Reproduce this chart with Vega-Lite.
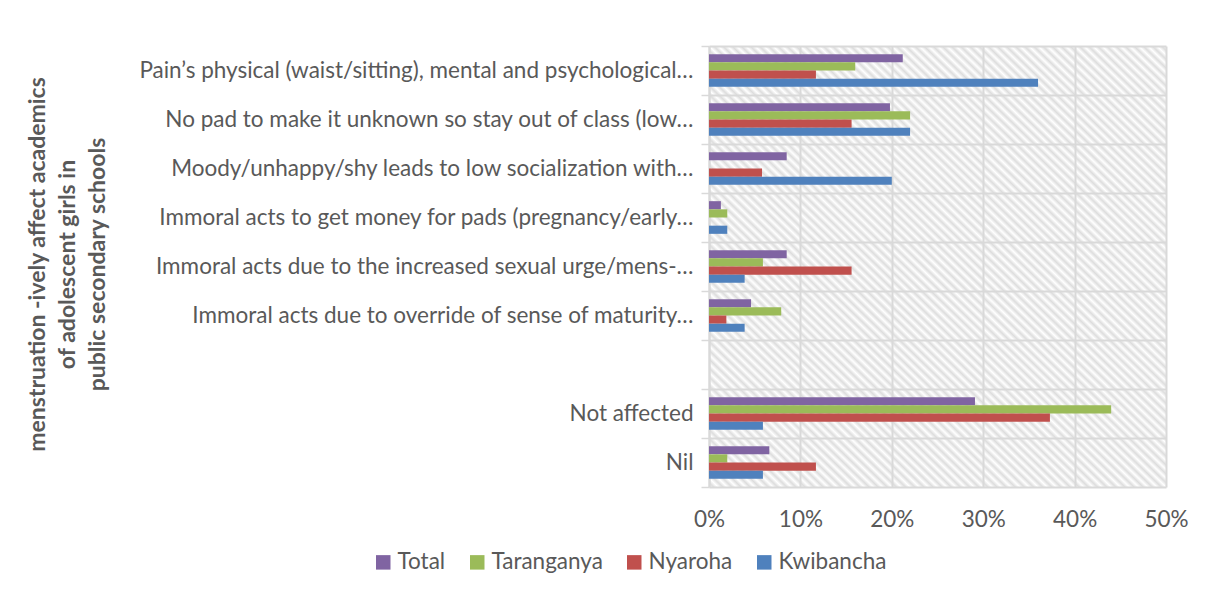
{
  "$schema": "https://vega.github.io/schema/vega-lite/v6.json",
  "width": 457,
  "height": 441,
  "autosize": {"type": "none"},
  "padding": {"left": 709, "top": 46, "right": 54, "bottom": 108},
  "background": "#ffffff",
  "config": {"font": "Lato, sans-serif"},
  "view": {
    "stroke": null,
    "fill": {
      "gradient": "linear", "x1": 0, "y1": 1, "x2": 1, "y2": 0,
      "stops": [
        {"offset":0,"color":"#fff"},{"offset":0.005,"color":"#ddd"},{"offset":0.01,"color":"#fff"},{"offset":0.015,"color":"#ddd"},{"offset":0.02,"color":"#fff"},{"offset":0.025,"color":"#ddd"},{"offset":0.03,"color":"#fff"},{"offset":0.035,"color":"#ddd"},{"offset":0.04,"color":"#fff"},{"offset":0.045,"color":"#ddd"},{"offset":0.05,"color":"#fff"},{"offset":0.055,"color":"#ddd"},{"offset":0.06,"color":"#fff"},{"offset":0.065,"color":"#ddd"},{"offset":0.07,"color":"#fff"},{"offset":0.075,"color":"#ddd"},{"offset":0.08,"color":"#fff"},{"offset":0.085,"color":"#ddd"},{"offset":0.09,"color":"#fff"},{"offset":0.095,"color":"#ddd"},
        {"offset":0.1,"color":"#fff"},{"offset":0.105,"color":"#ddd"},{"offset":0.11,"color":"#fff"},{"offset":0.115,"color":"#ddd"},{"offset":0.12,"color":"#fff"},{"offset":0.125,"color":"#ddd"},{"offset":0.13,"color":"#fff"},{"offset":0.135,"color":"#ddd"},{"offset":0.14,"color":"#fff"},{"offset":0.145,"color":"#ddd"},{"offset":0.15,"color":"#fff"},{"offset":0.155,"color":"#ddd"},{"offset":0.16,"color":"#fff"},{"offset":0.165,"color":"#ddd"},{"offset":0.17,"color":"#fff"},{"offset":0.175,"color":"#ddd"},{"offset":0.18,"color":"#fff"},{"offset":0.185,"color":"#ddd"},{"offset":0.19,"color":"#fff"},{"offset":0.195,"color":"#ddd"},
        {"offset":0.2,"color":"#fff"},{"offset":0.205,"color":"#ddd"},{"offset":0.21,"color":"#fff"},{"offset":0.215,"color":"#ddd"},{"offset":0.22,"color":"#fff"},{"offset":0.225,"color":"#ddd"},{"offset":0.23,"color":"#fff"},{"offset":0.235,"color":"#ddd"},{"offset":0.24,"color":"#fff"},{"offset":0.245,"color":"#ddd"},{"offset":0.25,"color":"#fff"},{"offset":0.255,"color":"#ddd"},{"offset":0.26,"color":"#fff"},{"offset":0.265,"color":"#ddd"},{"offset":0.27,"color":"#fff"},{"offset":0.275,"color":"#ddd"},{"offset":0.28,"color":"#fff"},{"offset":0.285,"color":"#ddd"},{"offset":0.29,"color":"#fff"},{"offset":0.295,"color":"#ddd"},
        {"offset":0.3,"color":"#fff"},{"offset":0.305,"color":"#ddd"},{"offset":0.31,"color":"#fff"},{"offset":0.315,"color":"#ddd"},{"offset":0.32,"color":"#fff"},{"offset":0.325,"color":"#ddd"},{"offset":0.33,"color":"#fff"},{"offset":0.335,"color":"#ddd"},{"offset":0.34,"color":"#fff"},{"offset":0.345,"color":"#ddd"},{"offset":0.35,"color":"#fff"},{"offset":0.355,"color":"#ddd"},{"offset":0.36,"color":"#fff"},{"offset":0.365,"color":"#ddd"},{"offset":0.37,"color":"#fff"},{"offset":0.375,"color":"#ddd"},{"offset":0.38,"color":"#fff"},{"offset":0.385,"color":"#ddd"},{"offset":0.39,"color":"#fff"},{"offset":0.395,"color":"#ddd"},
        {"offset":0.4,"color":"#fff"},{"offset":0.405,"color":"#ddd"},{"offset":0.41,"color":"#fff"},{"offset":0.415,"color":"#ddd"},{"offset":0.42,"color":"#fff"},{"offset":0.425,"color":"#ddd"},{"offset":0.43,"color":"#fff"},{"offset":0.435,"color":"#ddd"},{"offset":0.44,"color":"#fff"},{"offset":0.445,"color":"#ddd"},{"offset":0.45,"color":"#fff"},{"offset":0.455,"color":"#ddd"},{"offset":0.46,"color":"#fff"},{"offset":0.465,"color":"#ddd"},{"offset":0.47,"color":"#fff"},{"offset":0.475,"color":"#ddd"},{"offset":0.48,"color":"#fff"},{"offset":0.485,"color":"#ddd"},{"offset":0.49,"color":"#fff"},{"offset":0.495,"color":"#ddd"},
        {"offset":0.5,"color":"#fff"},{"offset":0.505,"color":"#ddd"},{"offset":0.51,"color":"#fff"},{"offset":0.515,"color":"#ddd"},{"offset":0.52,"color":"#fff"},{"offset":0.525,"color":"#ddd"},{"offset":0.53,"color":"#fff"},{"offset":0.535,"color":"#ddd"},{"offset":0.54,"color":"#fff"},{"offset":0.545,"color":"#ddd"},{"offset":0.55,"color":"#fff"},{"offset":0.555,"color":"#ddd"},{"offset":0.56,"color":"#fff"},{"offset":0.565,"color":"#ddd"},{"offset":0.57,"color":"#fff"},{"offset":0.575,"color":"#ddd"},{"offset":0.58,"color":"#fff"},{"offset":0.585,"color":"#ddd"},{"offset":0.59,"color":"#fff"},{"offset":0.595,"color":"#ddd"},
        {"offset":0.6,"color":"#fff"},{"offset":0.605,"color":"#ddd"},{"offset":0.61,"color":"#fff"},{"offset":0.615,"color":"#ddd"},{"offset":0.62,"color":"#fff"},{"offset":0.625,"color":"#ddd"},{"offset":0.63,"color":"#fff"},{"offset":0.635,"color":"#ddd"},{"offset":0.64,"color":"#fff"},{"offset":0.645,"color":"#ddd"},{"offset":0.65,"color":"#fff"},{"offset":0.655,"color":"#ddd"},{"offset":0.66,"color":"#fff"},{"offset":0.665,"color":"#ddd"},{"offset":0.67,"color":"#fff"},{"offset":0.675,"color":"#ddd"},{"offset":0.68,"color":"#fff"},{"offset":0.685,"color":"#ddd"},{"offset":0.69,"color":"#fff"},{"offset":0.695,"color":"#ddd"},
        {"offset":0.7,"color":"#fff"},{"offset":0.705,"color":"#ddd"},{"offset":0.71,"color":"#fff"},{"offset":0.715,"color":"#ddd"},{"offset":0.72,"color":"#fff"},{"offset":0.725,"color":"#ddd"},{"offset":0.73,"color":"#fff"},{"offset":0.735,"color":"#ddd"},{"offset":0.74,"color":"#fff"},{"offset":0.745,"color":"#ddd"},{"offset":0.75,"color":"#fff"},{"offset":0.755,"color":"#ddd"},{"offset":0.76,"color":"#fff"},{"offset":0.765,"color":"#ddd"},{"offset":0.77,"color":"#fff"},{"offset":0.775,"color":"#ddd"},{"offset":0.78,"color":"#fff"},{"offset":0.785,"color":"#ddd"},{"offset":0.79,"color":"#fff"},{"offset":0.795,"color":"#ddd"},
        {"offset":0.8,"color":"#fff"},{"offset":0.805,"color":"#ddd"},{"offset":0.81,"color":"#fff"},{"offset":0.815,"color":"#ddd"},{"offset":0.82,"color":"#fff"},{"offset":0.825,"color":"#ddd"},{"offset":0.83,"color":"#fff"},{"offset":0.835,"color":"#ddd"},{"offset":0.84,"color":"#fff"},{"offset":0.845,"color":"#ddd"},{"offset":0.85,"color":"#fff"},{"offset":0.855,"color":"#ddd"},{"offset":0.86,"color":"#fff"},{"offset":0.865,"color":"#ddd"},{"offset":0.87,"color":"#fff"},{"offset":0.875,"color":"#ddd"},{"offset":0.88,"color":"#fff"},{"offset":0.885,"color":"#ddd"},{"offset":0.89,"color":"#fff"},{"offset":0.895,"color":"#ddd"},
        {"offset":0.9,"color":"#fff"},{"offset":0.905,"color":"#ddd"},{"offset":0.91,"color":"#fff"},{"offset":0.915,"color":"#ddd"},{"offset":0.92,"color":"#fff"},{"offset":0.925,"color":"#ddd"},{"offset":0.93,"color":"#fff"},{"offset":0.935,"color":"#ddd"},{"offset":0.94,"color":"#fff"},{"offset":0.945,"color":"#ddd"},{"offset":0.95,"color":"#fff"},{"offset":0.955,"color":"#ddd"},{"offset":0.96,"color":"#fff"},{"offset":0.965,"color":"#ddd"},{"offset":0.97,"color":"#fff"},{"offset":0.975,"color":"#ddd"},{"offset":0.98,"color":"#fff"},{"offset":0.985,"color":"#ddd"},{"offset":0.99,"color":"#fff"},{"offset":0.995,"color":"#ddd"},
        {"offset":1,"color":"#fff"}
      ]
    }
  },
  "data": {
    "values": [
      {"cause": "Pain’s physical (waist/sitting), mental and psychological…", "school": "Total", "pct": 0.212},
      {"cause": "Pain’s physical (waist/sitting), mental and psychological…", "school": "Taranganya", "pct": 0.16},
      {"cause": "Pain’s physical (waist/sitting), mental and psychological…", "school": "Nyaroha", "pct": 0.117},
      {"cause": "Pain’s physical (waist/sitting), mental and psychological…", "school": "Kwibancha", "pct": 0.36},
      {"cause": "No pad to make it unknown so stay out of class (low…", "school": "Total", "pct": 0.198},
      {"cause": "No pad to make it unknown so stay out of class (low…", "school": "Taranganya", "pct": 0.22},
      {"cause": "No pad to make it unknown so stay out of class (low…", "school": "Nyaroha", "pct": 0.156},
      {"cause": "No pad to make it unknown so stay out of class (low…", "school": "Kwibancha", "pct": 0.22},
      {"cause": "Moody/unhappy/shy leads to low socialization with…", "school": "Total", "pct": 0.085},
      {"cause": "Moody/unhappy/shy leads to low socialization with…", "school": "Taranganya", "pct": 0},
      {"cause": "Moody/unhappy/shy leads to low socialization with…", "school": "Nyaroha", "pct": 0.058},
      {"cause": "Moody/unhappy/shy leads to low socialization with…", "school": "Kwibancha", "pct": 0.2},
      {"cause": "Immoral acts to get money for pads (pregnancy/early…", "school": "Total", "pct": 0.013},
      {"cause": "Immoral acts to get money for pads (pregnancy/early…", "school": "Taranganya", "pct": 0.02},
      {"cause": "Immoral acts to get money for pads (pregnancy/early…", "school": "Nyaroha", "pct": 0},
      {"cause": "Immoral acts to get money for pads (pregnancy/early…", "school": "Kwibancha", "pct": 0.02},
      {"cause": "Immoral acts due to the increased sexual urge/mens-…", "school": "Total", "pct": 0.085},
      {"cause": "Immoral acts due to the increased sexual urge/mens-…", "school": "Taranganya", "pct": 0.059},
      {"cause": "Immoral acts due to the increased sexual urge/mens-…", "school": "Nyaroha", "pct": 0.156},
      {"cause": "Immoral acts due to the increased sexual urge/mens-…", "school": "Kwibancha", "pct": 0.039},
      {"cause": "Immoral acts due to override of sense of maturity…", "school": "Total", "pct": 0.046},
      {"cause": "Immoral acts due to override of sense of maturity…", "school": "Taranganya", "pct": 0.079},
      {"cause": "Immoral acts due to override of sense of maturity…", "school": "Nyaroha", "pct": 0.019},
      {"cause": "Immoral acts due to override of sense of maturity…", "school": "Kwibancha", "pct": 0.039},
      {"cause": "Not affected", "school": "Total", "pct": 0.291},
      {"cause": "Not affected", "school": "Taranganya", "pct": 0.44},
      {"cause": "Not affected", "school": "Nyaroha", "pct": 0.373},
      {"cause": "Not affected", "school": "Kwibancha", "pct": 0.059},
      {"cause": "Nil", "school": "Total", "pct": 0.066},
      {"cause": "Nil", "school": "Taranganya", "pct": 0.02},
      {"cause": "Nil", "school": "Nyaroha", "pct": 0.117},
      {"cause": "Nil", "school": "Kwibancha", "pct": 0.059}
    ]
  },
  "mark": {"type": "bar"},
  "encoding": {
    "y": {
      "field": "cause",
      "type": "nominal",
      "scale": {
        "domain": [
          "Pain’s physical (waist/sitting), mental and psychological…",
          "No pad to make it unknown so stay out of class (low…",
          "Moody/unhappy/shy leads to low socialization with…",
          "Immoral acts to get money for pads (pregnancy/early…",
          "Immoral acts due to the increased sexual urge/mens-…",
          "Immoral acts due to override of sense of maturity…",
          " ",
          "Not affected",
          "Nil"
        ],
        "paddingInner": 0,
        "paddingOuter": 0
      },
      "axis": {
        "title": ["menstruation -ively affect academics", "of adolescent girls in", "public secondary schools"],
        "titleFontSize": 23,
        "titleFontWeight": "bold",
        "titleColor": "#595959",
        "titleLineHeight": 30,
        "titleAngle": -90,
        "titleAlign": "center",
        "titleBaseline": "middle",
        "titleX": -672,
        "titleY": 218,
        "labelFontSize": 22.5,
        "labelColor": "#595959",
        "labelLimit": 0,
        "labelPadding": 8,
        "tickBand": "extent",
        "tickSize": 8,
        "tickColor": "#d9d9d9",
        "tickWidth": 1.5,
        "domainColor": "#d9d9d9",
        "domainWidth": 2,
        "grid": true,
        "gridColor": "#d9d9d9",
        "gridWidth": 2
      }
    },
    "yOffset": {
      "field": "school",
      "type": "nominal",
      "scale": {"domain": ["Total", "Taranganya", "Nyaroha", "Kwibancha"], "paddingInner": 0, "paddingOuter": 1.27}
    },
    "x": {
      "field": "pct",
      "type": "quantitative",
      "scale": {"domain": [0, 0.5]},
      "axis": {
        "title": null,
        "format": ".0%",
        "values": [0, 0.1, 0.2, 0.3, 0.4, 0.5],
        "labelFontSize": 22.5,
        "labelColor": "#595959",
        "labelPadding": 21,
        "labelFlush": false,
        "ticks": false,
        "domain": false,
        "grid": true,
        "gridColor": "#d9d9d9",
        "gridWidth": 2
      }
    },
    "color": {
      "field": "school",
      "type": "nominal",
      "scale": {
        "domain": ["Total", "Taranganya", "Nyaroha", "Kwibancha"],
        "range": ["#8064A2", "#9BBB59", "#C0504D", "#4F81BD"]
      },
      "legend": {
        "title": null,
        "orient": "none",
        "direction": "horizontal",
        "legendX": -337,
        "legendY": 505,
        "padding": 0,
        "labelFontSize": 22.5,
        "labelColor": "#595959",
        "symbolType": "square",
        "symbolSize": 210,
        "symbolStrokeWidth": 0,
        "symbolOpacity": 1,
        "labelOffset": 3,
        "columnPadding": 20
      }
    }
  }
}
